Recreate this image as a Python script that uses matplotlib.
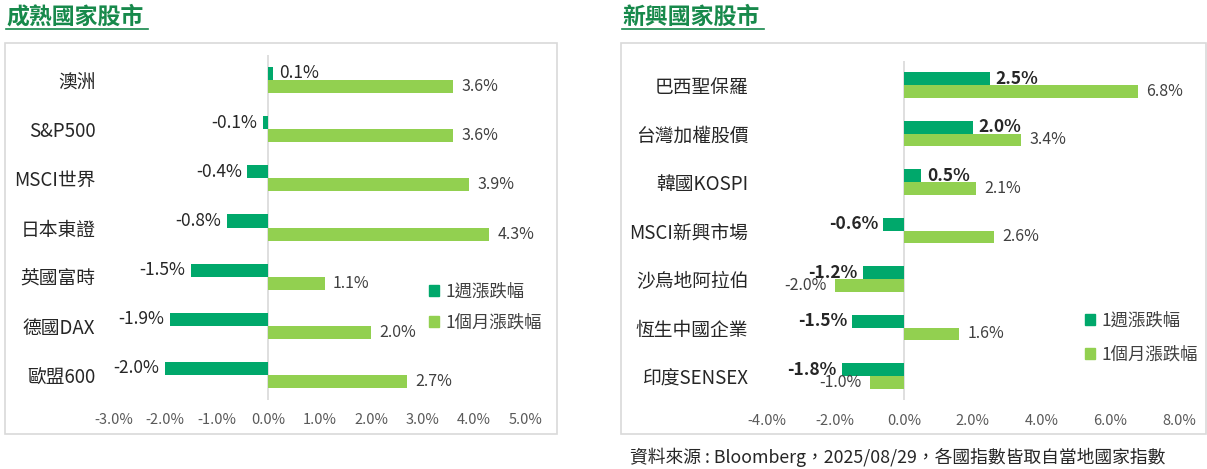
import matplotlib
matplotlib.use("Agg")
import matplotlib.pyplot as plt
from matplotlib.patches import Rectangle, Patch
from matplotlib.lines import Line2D

plt.rcParams['font.family'] = ['Noto Sans CJK TC', 'DejaVu Sans']

# data
dev_names = ["澳洲", "S&P500", "MSCI世界", "日本東證", "英國富時", "德國DAX", "歐盟600"]
dev_week = [0.1, -0.1, -0.4, -0.8, -1.5, -1.9, -2.0]
dev_month = [3.6, 3.6, 3.9, 4.3, 1.1, 2.0, 2.7]
dev_ticks = [-3, -2, -1, 0, 1, 2, 3, 4, 5]

em_names = ["巴西聖保羅", "台灣加權股價", "韓國KOSPI", "MSCI新興市場", "沙烏地阿拉伯", "恆生中國企業", "印度SENSEX"]
em_week = [2.5, 2.0, 0.5, -0.6, -1.2, -1.5, -1.8]
em_month = [6.8, 3.4, 2.1, 2.6, -2.0, 1.6, -1.0]
em_ticks = [-4, -2, 0, 2, 4, 6, 8]

legend_labels = ["1週漲跌幅", "1個月漲跌幅"]
titles = ["成熟國家股市", "新興國家股市"]
source = "資料來源 : Bloomberg，2025/08/29，各國指數皆取自當地國家指數"

DARK = "#00A86B"
LIGHT = "#92D050"
TITLE_GREEN = "#17894B"
W, H = 1207, 469


def fx(px):
    return px / W


def fy(py):
    return 1 - py / H


def draw_panel(ax, names, week, month, ticks, bold_week):
    n = len(names)
    pos = list(range(n))
    bh = 0.265
    b1 = ax.barh([p - bh / 2 for p in pos], week, height=bh, color=DARK)
    b2 = ax.barh([p + bh / 2 for p in pos], month, height=bh, color=LIGHT)
    ax.bar_label(b1, labels=[f"{v:.1f}%" for v in week], padding=4,
                 fontsize=12.5, color="#262626",
                 fontweight="bold" if bold_week else "normal")
    ax.bar_label(b2, labels=[f"{v:.1f}%" for v in month], padding=6,
                 fontsize=11.5, color="#404040")
    ax.set_ylim(n - 0.5, -0.5)
    ax.set_xlim(ticks[0], ticks[-1])
    ax.set_xticks(ticks)
    ax.set_xticklabels([f"{t:.1f}%" for t in ticks], fontsize=10.5, color="#595959")
    ax.set_yticks(pos)
    ax.set_yticklabels(names, fontsize=13.5, color="#262626")
    ax.tick_params(axis="both", length=0)
    ax.tick_params(axis="y", pad=13)
    ax.tick_params(axis="x", pad=10)
    for s in ax.spines.values():
        s.set_visible(False)
    ax.axvline(0, color="#D9D9D9", lw=1.2, zorder=0)
    ax.set_facecolor("none")


fig = plt.figure(figsize=(W / 100, H / 100), dpi=100)

# panel frames and titles
for (x0, x1) in [(5, 557), (621, 1206)]:
    fig.patches.append(Rectangle((fx(x0), fy(434)), fx(x1 - x0), (434 - 43) / H,
                                 transform=fig.transFigure, fill=False,
                                 edgecolor="#D9D9D9", lw=1.2))
for title, tx in zip(titles, [6, 622]):
    fig.text(fx(tx), fy(17), title, fontsize=16.5, fontweight="bold",
             color=TITLE_GREEN, ha="left", va="center")
    fig.lines.append(Line2D([fx(tx), fx(tx + 142)], [fy(29), fy(29)],
                            transform=fig.transFigure, color=TITLE_GREEN, lw=1.2))

ax1 = fig.add_axes([fx(113.5), fy(399.6), 412 / W, 344.2 / H])
draw_panel(ax1, dev_names, dev_week, dev_month, dev_ticks, False)

ax2 = fig.add_axes([fx(766.5), fy(400.3), 412.8 / W, 339.5 / H])
draw_panel(ax2, em_names, em_week, em_month, em_ticks, True)

handles = [Patch(color=DARK), Patch(color=LIGHT)]
for ax, (lx, ly), sp in [(ax1, (429, 283), 0.72), (ax2, (1085, 312), 0.92)]:
    ax.legend(handles, legend_labels, loc="upper left",
              bbox_to_anchor=(fx(lx), fy(ly)), bbox_transform=fig.transFigure,
              frameon=False, fontsize=12.5, handlelength=0.6, handleheight=0.6,
              handletextpad=0.35, labelspacing=sp, borderpad=0, borderaxespad=0,
              labelcolor="#404040")

fig.text(fx(630), fy(457), source, fontsize=12.8, color="#262626", ha="left", va="center")

fig.savefig("out.png", dpi=100)
